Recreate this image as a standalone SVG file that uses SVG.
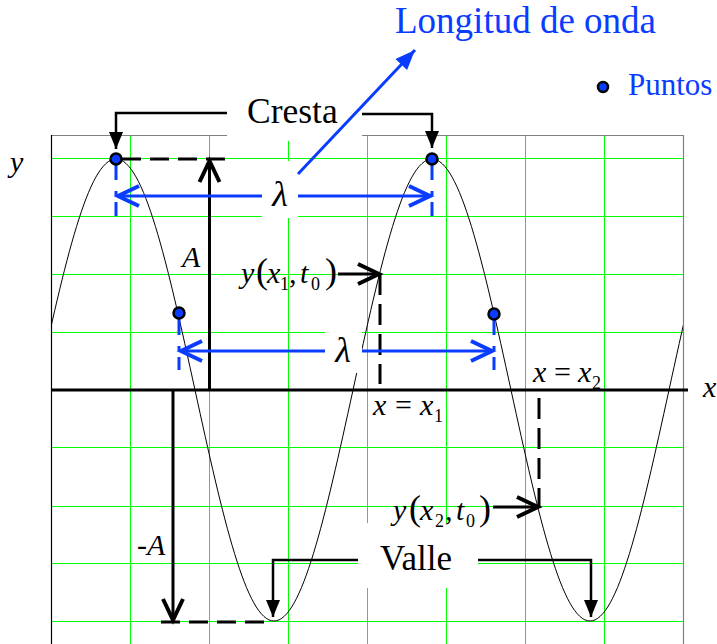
<svg xmlns="http://www.w3.org/2000/svg" width="717" height="644" viewBox="0 0 717 644">
<style>
.grid{stroke:#00ff00;stroke-width:1;fill:none}
.frame{stroke:#808080;stroke-width:1.2;fill:none}
.wave{stroke:#000;stroke-width:1;fill:none}
.txt{font-family:"Liberation Serif","Times New Roman",serif;fill:#000}
.it{font-style:italic}
.blue{fill:#0a3cff}
.box{fill:#fff;stroke:none}
.kline{stroke:#000;stroke-width:3;fill:none}
.bline{stroke:#0a3cff;stroke-width:3;fill:none}
.bracket{stroke:#000;stroke-width:2.5;fill:none}
.kdash{stroke:#000;stroke-width:3;fill:none;stroke-dasharray:19 9}
.vdash{stroke:#000;stroke-width:3;fill:none;stroke-dasharray:21 9}
.bdashdot{stroke:#0a3cff;stroke-width:3;fill:none;stroke-dasharray:17 11 4 7}
.dot{fill:#0a3cff;stroke:#000;stroke-width:2.5}
</style>
<defs>
<marker id="chevK" markerUnits="userSpaceOnUse" orient="auto" overflow="visible" markerWidth="1" markerHeight="1" refX="0" refY="0">
<path d="M -21 -10 L 0 0 L -21 10" fill="none" stroke="#000" stroke-width="4" stroke-linejoin="miter"/>
</marker>
<marker id="chevB" markerUnits="userSpaceOnUse" orient="auto" overflow="visible" markerWidth="1" markerHeight="1" refX="0" refY="0">
<path d="M -21 -10 L 0 0 L -21 10" fill="none" stroke="#0a3cff" stroke-width="4" stroke-linejoin="miter"/>
</marker>
<marker id="triK" markerUnits="userSpaceOnUse" orient="auto" overflow="visible" markerWidth="1" markerHeight="1" refX="0" refY="0">
<path d="M -17 -7 L 0 0 L -17 7 Z" fill="#000"/>
</marker>
<marker id="triB" markerUnits="userSpaceOnUse" orient="auto" overflow="visible" markerWidth="1" markerHeight="1" refX="0" refY="0">
<path d="M -20 -8 L 0 0 L -20 8 Z" fill="#0a3cff"/>
</marker>
<clipPath id="plot"><rect x="51" y="135" width="632" height="509"/></clipPath>
</defs>
<rect width="717" height="644" fill="#fff"/>

<g id="grid">
<path class="grid" d="M130.5 135V644 M209.5 135V644 M288.5 135V644 M367.5 135V644 M446.5 135V644 M525.5 135V644 M604.5 135V644"/>
<path class="grid" d="M51 158.5H683 M51 216.5H683 M51 274.5H683 M51 332.5H683 M51 447.5H683 M51 506.5H683 M51 563.5H683 M51 621.5H683"/>
<path class="frame" d="M51 135.5H683.5V644"/>
<path d="M51.5 135V644" stroke="#000" stroke-width="1.2" fill="none"/>
</g>

<g id="wave" clip-path="url(#plot)">
<path class="wave" d="M 37 390 C 64.78 262.4 88.22 159 116 159 C 143.78 159 167.22 262.4 195 390 C 222.78 517.6 246.22 621 274 621 C 301.78 621 325.22 517.6 353 390 C 380.78 262.4 404.22 159 432 159 C 459.78 159 483.22 262.4 511 390 C 538.78 517.6 562.22 621 590 621 C 617.78 621 641.22 517.6 669 390 C 696.78 262.4 720.22 159 748 159"/>
</g>

<g id="label-longitud">
<text class="txt blue" x="395" y="33" font-size="37">Longitud de onda</text>
</g>
<g id="legend-puntos">
<circle class="dot" cx="603" cy="87" r="5"/>
<text class="txt blue" x="628" y="95" font-size="31">Puntos</text>
</g>
<g id="label-cresta">
<rect class="box" x="227" y="92" width="135" height="49"/>
<text class="txt" x="247" y="123" font-size="35.5">Cresta</text>
</g>
<g id="label-valle">
<rect class="box" x="358" y="523" width="120" height="65"/>
<text class="txt" x="380" y="570" font-size="35">Valle</text>
</g>
<g id="label-lambda1">
<rect class="box" x="262" y="161" width="36" height="57"/>
<text class="txt it" x="280" y="206" font-size="36" text-anchor="middle">λ</text>
</g>
<g id="label-lambda2">
<rect class="box" x="325" y="328" width="37" height="45"/>
<text class="txt it" x="343" y="362" font-size="36" text-anchor="middle">λ</text>
</g>
<g id="label-y">
<text class="txt it" x="10" y="172" font-size="30">y</text>
</g>
<g id="label-x">
<text class="txt it" x="703" y="397" font-size="30">x</text>
</g>
<g id="label-A">
<text class="txt it" x="182" y="267" font-size="30">A</text>
</g>
<g id="label-minusA">
<text class="txt it" x="137" y="555" font-size="30">-A</text>
</g>
<g id="label-yx1t0" class="txt">
<text x="241" y="283" font-size="30" class="it">y</text>
<text x="256" y="283" font-size="36">(</text>
<text x="267" y="283" font-size="30" class="it">x</text>
<text x="280" y="290" font-size="18">1</text>
<text x="289" y="283" font-size="30">,</text>
<text x="300" y="283" font-size="30" class="it">t</text>
<text x="311" y="290" font-size="18">0</text>
<text x="325" y="283" font-size="36">)</text>
</g>
<g id="label-yx2t0" class="txt">
<text x="393" y="520" font-size="30" class="it">y</text>
<text x="409" y="520" font-size="36">(</text>
<text x="420" y="520" font-size="30" class="it">x</text>
<text x="435" y="527" font-size="18">2</text>
<text x="445" y="520" font-size="30">,</text>
<text x="456" y="520" font-size="30" class="it">t</text>
<text x="466" y="527" font-size="18">0</text>
<text x="479" y="520" font-size="36">)</text>
</g>
<g id="label-xeqx1" class="txt">
<text x="373" y="415" font-size="30" class="it">x</text>
<text x="395" y="415" font-size="30">=</text>
<text x="420" y="415" font-size="30" class="it">x</text>
<text x="434" y="422" font-size="18">1</text>
</g>
<g id="label-xeqx2" class="txt">
<text x="533" y="382" font-size="30" class="it">x</text>
<text x="554" y="382" font-size="30">=</text>
<text x="578" y="382" font-size="30" class="it">x</text>
<text x="592" y="389" font-size="18">2</text>
</g>

<g id="connectors">
<path class="kline" d="M51 390H688"/>
<path class="kline" d="M209.5 390V161" marker-end="url(#chevK)"/>
<path class="kline" d="M173 390V620" marker-end="url(#chevK)"/>
<path class="kdash" d="M122 159H229"/>
<path class="kdash" d="M161 622H273"/>
<path class="vdash" d="M380 274V384"/>
<path class="vdash" d="M539 398V507"/>
<path class="kline" d="M338 274H379" marker-end="url(#chevK)"/>
<path class="kline" d="M493 507H538" marker-end="url(#chevK)"/>
<path class="bracket" d="M227 113H116V149" marker-end="url(#triK)"/>
<path class="bracket" d="M362 114H432V148" marker-end="url(#triK)"/>
<path class="bracket" d="M358 560H273V617" marker-end="url(#triK)"/>
<path class="bracket" d="M478 560H591V617" marker-end="url(#triK)"/>
<path class="bline" d="M298 174L415 50" marker-end="url(#triB)"/>
<path class="bdashdot" d="M116 163V216"/>
<path class="bdashdot" d="M432 163V216"/>
<path class="bdashdot" d="M179 318V370"/>
<path class="bdashdot" d="M494 318V370"/>
<path class="bline" d="M262 196H118" marker-end="url(#chevB)"/>
<path class="bline" d="M298 196H430" marker-end="url(#chevB)"/>
<path class="bline" d="M325 351H181" marker-end="url(#chevB)"/>
<path class="bline" d="M362 351H492" marker-end="url(#chevB)"/>
</g>

<g id="points">
<circle class="dot" cx="116" cy="159" r="5.5"/>
<circle class="dot" cx="432" cy="159" r="5.5"/>
<circle class="dot" cx="179" cy="313" r="5.5"/>
<circle class="dot" cx="494" cy="314" r="5.5"/>
</g>
</svg>
